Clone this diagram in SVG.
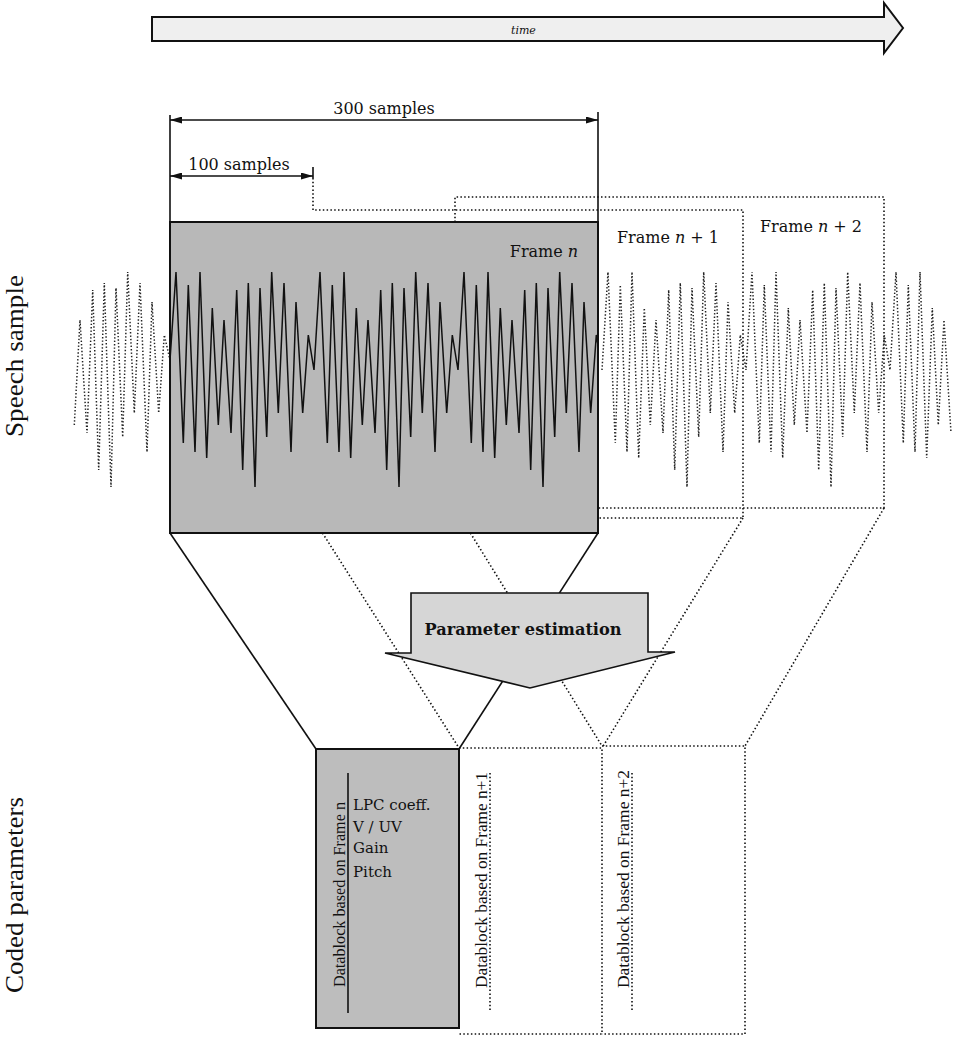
<svg xmlns="http://www.w3.org/2000/svg" width="954" height="1039" viewBox="0 0 954 1039">
<style>
.solid{fill:none;stroke:#111;stroke-width:1.6}
.dot{fill:none;stroke:#111;stroke-width:1.6;stroke-dasharray:1.5 2.3}
.wave{fill:none;stroke:#111;stroke-width:1.5;stroke-linejoin:miter}
.wdot{fill:none;stroke:#222;stroke-width:1.5;stroke-dasharray:1.4 2}
.cm{font-family:"DejaVu Serif","Liberation Serif",serif;fill:#111}
.tm{font-family:"Liberation Serif","DejaVu Serif",serif;fill:#111}
</style>
<defs>
<marker id="ah" viewBox="0 0 12 7" markerWidth="12" markerHeight="7" refX="12" refY="3.5" orient="auto-start-reverse" markerUnits="userSpaceOnUse">
<path d="M0,0 L12,3.5 L0,7 z" fill="#111"/>
</marker>
</defs>
<rect width="954" height="1039" fill="#fff"/>

<g id="time-arrow">
<polygon points="152,17 884,17 884,3 903,28 884,53 884,41 152,41" fill="#efefef" stroke="#111" stroke-width="2"/>
<text class="cm" x="511" y="34" font-size="11" font-style="italic">time</text>
</g>

<g id="dimensions">
<line class="solid" x1="170" y1="115" x2="170" y2="222"/>
<line class="solid" x1="598" y1="112" x2="598" y2="222"/>
<line class="solid" x1="170" y1="120" x2="598" y2="120" marker-start="url(#ah)" marker-end="url(#ah)"/>
<text class="cm" x="384" y="114" font-size="16" text-anchor="middle">300 samples</text>
<line class="solid" x1="313" y1="167" x2="313" y2="178"/>
<line class="solid" x1="170" y1="176" x2="313" y2="176" marker-start="url(#ah)" marker-end="url(#ah)"/>
<text class="cm" x="239" y="170" font-size="16" text-anchor="middle">100 samples</text>
</g>

<g id="frame-n2">
<path class="dot" d="M455,222 V197 H884 V508 H598"/>
<text class="cm" x="811" y="232" font-size="16" text-anchor="middle">Frame <tspan font-style="italic">n</tspan> + 2</text>
</g>

<g id="frame-n1">
<path class="dot" d="M313,178 V210 H743 V518 H598"/>
<text class="cm" x="668" y="243" font-size="16" text-anchor="middle">Frame <tspan font-style="italic">n</tspan> + 1</text>
</g>

<g id="speech-dotted">
<polyline class="wdot" points="74.3,425 80,320 87,433 92.7,290 98.7,470 104.3,283 111,487 116,288 122.7,437 127.7,272 134.3,413 140,283 147,452 152,302 158.7,413 164.3,335 170,360"/>
<polyline class="wdot" points="602,370 608,272 615.3,443 620.3,285 627,452 632,272 638.7,458 644.3,308 650.3,425 656,320 663,433 668.7,290 674.7,470 680.3,283 687,487 692,288 698.7,437 703.7,272 710.3,413 716,283 723,452 728,302 734.7,413 740.3,335 746,370 752,272 759.3,443 764.3,285 771,452 776,272 782.7,458 788.3,308 794.3,425 800,320 807,433 812.7,290 818.7,470 824.3,283 831,487 836,288 842.7,437 847.7,272 854.3,413 860,283 867,452 872,302 878.7,413 884.3,335 890,370 896,272 903.3,443 908.3,285 915,452 920,272 926.7,458 932.3,308 938.3,425 944,320 951,433"/>
</g>

<g id="frame-n">
<rect x="170" y="222" width="428" height="311" fill="#b8b8b8" stroke="#111" stroke-width="2"/>
<polyline class="wave" points="170,360 176,272 183.3,443 188.3,285 195,452 200,272 206.7,458 212.3,308 218.3,425 224,320 231,433 236.7,290 242.7,470 248.3,283 255,487 260,288 266.7,437 271.7,272 278.3,413 284,283 291,452 296,302 302.7,413 308.3,335 314,370 320,272 327.3,443 332.3,285 339,452 344,272 350.7,458 356.3,308 362.3,425 368,320 375,433 380.7,290 386.7,470 392.3,283 399,487 404,288 410.7,437 415.7,272 422.3,413 428,283 435,452 440,302 446.7,413 452.3,335 458,370 464,272 471.3,443 476.3,285 483,452 488,272 494.7,458 500.3,308 506.3,425 512,320 519,433 524.7,290 530.7,470 536.3,283 543,487 548,288 554.7,437 559.7,272 566.3,413 572,283 579,452 584,302 590.7,413 596.3,335 598,345"/>
<text class="cm" x="544" y="257" font-size="16" text-anchor="middle">Frame <tspan font-style="italic">n</tspan></text>
</g>

<g id="connectors">
<line class="solid" x1="170" y1="533" x2="316" y2="749"/>
<line class="solid" x1="598" y1="533" x2="459" y2="749"/>
<line class="dot" x1="322.5" y1="533" x2="459" y2="748"/>
<line class="dot" x1="743" y1="518" x2="602" y2="748"/>
<line class="dot" x1="470.4" y1="533" x2="602" y2="746"/>
<line class="dot" x1="884" y1="508" x2="745" y2="746"/>
</g>

<g id="parameter-estimation">
<polygon points="411,593 648,593 648,652 675,652 530,688 385,653 411,653" fill="#d6d6d6" stroke="#111" stroke-width="1.6"/>
<text class="cm" x="523" y="635" font-size="17" font-weight="bold" text-anchor="middle" textLength="197" lengthAdjust="spacingAndGlyphs">Parameter estimation</text>
</g>

<g id="datablock-n">
<rect x="316" y="749" width="143" height="279" fill="#bdbdbd" stroke="#111" stroke-width="2"/>
<line class="solid" x1="348" y1="773" x2="348" y2="1013"/>
<text class="tm" transform="translate(345,987) rotate(-90)" font-size="16" textLength="185" lengthAdjust="spacingAndGlyphs">Datablock based on Frame n</text>
<text class="cm" x="353" y="810" font-size="15">LPC coeff.</text>
<text class="cm" x="353" y="832" font-size="15">V / UV</text>
<text class="cm" x="353" y="853" font-size="15">Gain</text>
<text class="cm" x="353" y="877" font-size="15">Pitch</text>
</g>

<g id="datablock-n1">
<path class="dot" d="M459,748 H602 V1034 H459"/>
<line class="dot" x1="490" y1="773" x2="490" y2="1010"/>
<text class="tm" transform="translate(487,988) rotate(-90)" font-size="16" textLength="216" lengthAdjust="spacingAndGlyphs">Datablock based on Frame n+1</text>
</g>

<g id="datablock-n2">
<path class="dot" d="M602,746 H745 V1034 H602"/>
<line class="dot" x1="632" y1="773" x2="632" y2="1010"/>
<text class="tm" transform="translate(629,988) rotate(-90)" font-size="16" textLength="218" lengthAdjust="spacingAndGlyphs">Datablock based on Frame n+2</text>
</g>

<g id="side-labels">
<text class="tm" transform="translate(23,437) rotate(-90)" font-size="25" textLength="162" lengthAdjust="spacingAndGlyphs">Speech sample</text>
<text class="tm" transform="translate(23,993) rotate(-90)" font-size="25" textLength="196" lengthAdjust="spacingAndGlyphs">Coded parameters</text>
</g>
</svg>
